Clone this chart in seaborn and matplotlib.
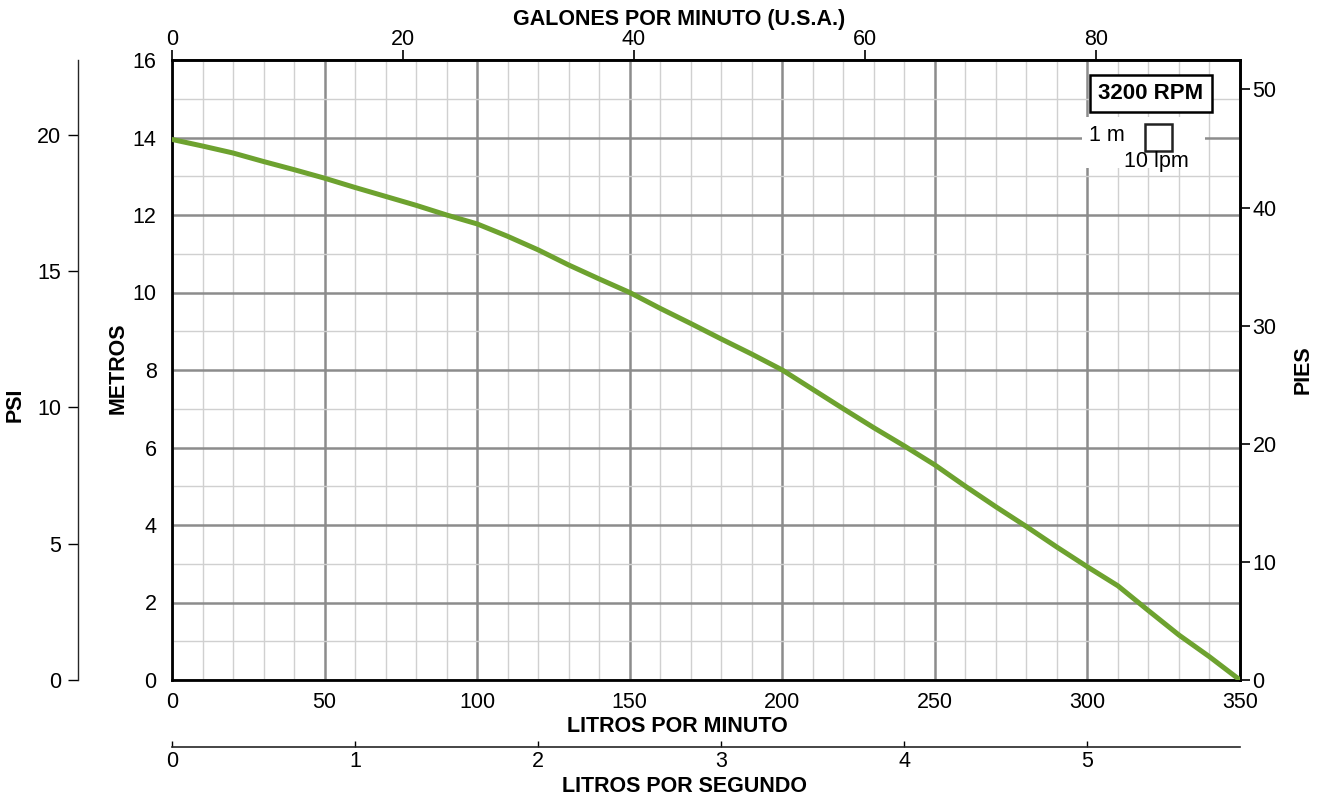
import numpy as np
import pandas as pd
import seaborn as sns
import matplotlib.pyplot as plt
from matplotlib.patches import Rectangle

# pump curve (litros por minuto vs metros)
lpm = [0, 10, 20, 30, 40, 50, 60, 70, 80, 90, 100, 110, 120, 130, 140, 150, 160, 170,
       180, 190, 200, 210, 220, 230, 240, 250, 260, 270, 280, 290, 300, 310, 320, 330,
       340, 350]
metros = [13.95, 13.78, 13.6, 13.38, 13.17, 12.95, 12.71, 12.48, 12.25, 12.0, 11.77,
          11.45, 11.10, 10.71, 10.35, 10.0, 9.59, 9.2, 8.8, 8.41, 8.0, 7.5, 7.0, 6.51,
          6.04, 5.55, 5.0, 4.47, 3.96, 3.43, 2.92, 2.43, 1.79, 1.16, 0.6, 0.0]

lpm_ticks = [0, 50, 100, 150, 200, 250, 300, 350]
m_ticks = [0, 2, 4, 6, 8, 10, 12, 14, 16]
gpm_ticks = [0, 20, 40, 60, 80]
ft_ticks = [0, 10, 20, 30, 40, 50]
psi_ticks = [0, 5, 10, 15, 20]
lps_ticks = [0, 1, 2, 3, 4, 5]

sns.set_style("white", rc={'text.color': 'black', 'axes.labelcolor': 'black',
                           'xtick.color': 'black', 'ytick.color': 'black'})
plt.rcParams['font.family'] = ['Liberation Sans', 'DejaVu Sans']
FS = 15.5

df = pd.DataFrame({'lpm': lpm, 'metros': metros})

fig = plt.figure(figsize=(13.2, 8), dpi=100)
ax = fig.add_axes([172/1320, 1 - 680/800, 1068/1320, 620/800])

ax.set_xlim(0, 350)
ax.set_ylim(0, 16)
ax.set_xticks(lpm_ticks)
ax.set_yticks(m_ticks)
ax.set_xticks(np.arange(0, 351, 10), minor=True)
ax.set_yticks(np.arange(0, 17, 1), minor=True)
ax.set_axisbelow(True)
ax.grid(which='minor', color='#d0d0d0', lw=1.0)
ax.grid(which='major', color='#8c8c8c', lw=1.8)
ax.tick_params(which='minor', length=0)
ax.tick_params(which='major', length=7, width=1.2, color='black', pad=4, labelsize=FS)
ax.tick_params(axis='x', which='major', pad=2)
for s in ax.spines.values():
    s.set_linewidth(2.0)
    s.set_color('black')

sns.lineplot(data=df, x='lpm', y='metros', color='#6da22f', linewidth=3.6, ax=ax, zorder=3)
ax.set_xlabel('')
ax.set_ylabel('')

# extra scales
gpm = ax.secondary_xaxis('top', functions=(lambda x: x / 3.7854, lambda x: x * 3.7854))
gpm.set_xticks(gpm_ticks)
gpm.tick_params(length=7, width=1.2, pad=0.5, labelsize=FS)
gpm.spines['top'].set_linewidth(2.0)

ft = ax.secondary_yaxis('right', functions=(lambda m: m * 3.28084, lambda f: f / 3.28084))
ft.set_yticks(ft_ticks)
ft.tick_params(length=7, width=1.2, pad=2, labelsize=FS)
ft.spines['right'].set_linewidth(2.0)

psi = ax.secondary_yaxis(-0.088, functions=(lambda m: m * 1.4219, lambda p: p / 1.4219))
psi.set_yticks(psi_ticks)
psi.tick_params(length=7, width=1.0, pad=5, labelsize=FS)
psi.spines['left'].set_linewidth(1.0)

lps = ax.secondary_xaxis(-0.108, functions=(lambda x: x / 60, lambda x: x * 60))
lps.set_xticks(lps_ticks)
lps.tick_params(direction='in', length=4, width=1.0, pad=3, labelsize=FS)
lps.spines['bottom'].set_linewidth(1.2)

# axis titles
def ftxt(x, y, s, rot=0):
    fig.text(x / 1320, 1 - y / 800, s, ha='center', va='center', rotation=rot,
             fontweight='bold', fontsize=FS)

ftxt(679, 19, 'GALONES POR MINUTO (U.S.A.)')
ftxt(677, 726, 'LITROS POR MINUTO')
ftxt(685, 787, 'LITROS POR SEGUNDO')
ftxt(118, 368, 'METROS', 90)
ftxt(1303, 370, 'PIES', 90)
ftxt(15, 405, 'PSI', 90)

# rpm box and scale square
ax.text(0.9167, 0.946, '3200 RPM', transform=ax.transAxes, ha='center', va='center',
        fontweight='bold', fontsize=16, zorder=5,
        bbox=dict(boxstyle='square,pad=0.38', fc='white', ec='black', lw=1.8))
ax.add_patch(Rectangle((0.852, 0.826), 0.115, 0.082, transform=ax.transAxes,
                       fc='white', ec='none', zorder=1))
ax.add_patch(Rectangle((0.911, 0.853), 0.0253, 0.0435, transform=ax.transAxes,
                       fc='white', ec='#222222', lw=1.8, zorder=4))
ax.text(0.875, 0.879, '1 m', transform=ax.transAxes, ha='center', va='center', fontsize=FS, zorder=5)
ax.text(0.922, 0.837, '10 lpm', transform=ax.transAxes, ha='center', va='center', fontsize=FS, zorder=5)

plt.savefig('out.png', dpi=100)
